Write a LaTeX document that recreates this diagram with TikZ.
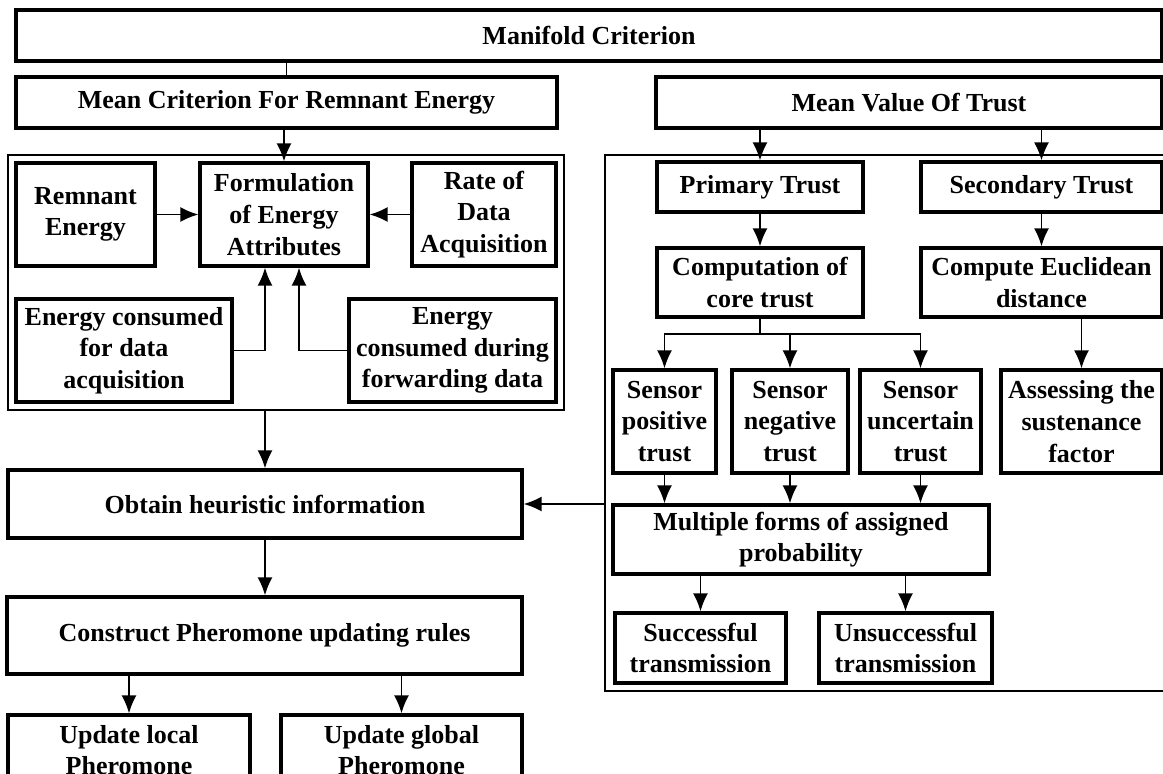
\documentclass[tikz,border=0pt]{standalone}
\usepackage{fontspec}
\setmainfont{Liberation Serif}
\usetikzlibrary{arrows.meta}
\tikzset{
  box/.style={rectangle, draw=black, line width=3.3pt, align=center, inner sep=0pt, font=\bfseries\fontsize{26}{31.7}\selectfont},
  frame/.style={rectangle, draw=black, line width=1.6pt, inner sep=0pt},
  arrow/.style={-{Latex[length=18pt,width=15pt]}, line width=1.8pt},
  link/.style={line width=1.8pt}
}
\begin{document}
\begin{tikzpicture}[x=1pt, y=-1pt]
\useasboundingbox (0,0) rectangle (1163,774);
\clip (0,0) rectangle (1163,774);
% frames
\node[frame, minimum width=556pt, minimum height=255pt](energyFrame) at (286,282.5){};
\node[frame, minimum width=570pt, minimum height=536pt](trustFrame) at (890,423){};

% top row
\node[box, minimum width=1146pt, minimum height=51pt](manifold) at (589,35.5){Manifold Criterion};
\node[box, minimum width=541pt, minimum height=51pt](meanEnergy) at (286.5,102.5){Mean Criterion For Remnant Energy};
\node[box, minimum width=506pt, minimum height=51pt](meanTrust) at (909,102.5){Mean Value Of Trust};

% energy side
\node[box, minimum width=139pt, minimum height=103pt](remnant) at (85.5,214.5){Remnant\\Energy};
\node[box, minimum width=168pt, minimum height=103pt](formulation) at (284,214.5){Formulation\\of Energy\\Attributes};
\node[box, minimum width=144pt, minimum height=103pt](rate) at (484,214.5){Rate of\\Data\\Acquisition};
\node[box, minimum width=216pt, minimum height=103pt](ecData) at (124,350.5){Energy consumed\\for data\\acquisition};
\node[box, minimum width=207pt, minimum height=103pt](ecFwd) at (452.5,350.5){Energy\\consumed during\\forwarding data};

\node[box, minimum width=514pt, minimum height=68pt](heuristic) at (265,504){Obtain heuristic information};
\node[box, minimum width=515pt, minimum height=77pt](construct) at (264.5,635.5){Construct Pheromone updating rules};
\node[box, minimum width=242pt, minimum height=70pt](updLocal) at (129,750){Update local\\Pheromone};
\node[box, minimum width=241pt, minimum height=70pt](updGlobal) at (401.5,750){Update global\\Pheromone};

% trust side
\node[box, minimum width=206pt, minimum height=50pt](primary) at (760,187){Primary Trust};
\node[box, minimum width=241pt, minimum height=50pt](secondary) at (1041.5,187){Secondary Trust};
\node[box, minimum width=206pt, minimum height=69pt](core) at (760,282.5){Computation of\\core trust};
\node[box, minimum width=241pt, minimum height=69pt](euclid) at (1041.5,282.5){Compute Euclidean\\distance};
\node[box, minimum width=103pt, minimum height=103pt](sPos) at (664.5,421.5){Sensor\\positive\\trust};
\node[box, minimum width=116pt, minimum height=103pt](sNeg) at (790,421.5){Sensor\\negative\\trust};
\node[box, minimum width=121pt, minimum height=103pt](sUnc) at (920.5,421.5){Sensor\\uncertain\\trust};
\node[box, minimum width=161pt, minimum height=103pt](sustain) at (1081.5,421.5){Assessing the\\sustenance\\factor};
\node[box, minimum width=376pt, minimum height=69pt](multiple) at (801,539.5){Multiple forms of assigned\\probability};
\node[box, minimum width=171pt, minimum height=70pt](success) at (700.5,648){Successful\\transmission};
\node[box, minimum width=173pt, minimum height=70pt](failure) at (905.5,648){Unsuccessful\\transmission};

% connectors, energy side
\draw[link] (meanEnergy.north |- manifold.south) -- (meanEnergy.north);
\draw[arrow] (meanEnergy.south -| formulation) -- (formulation.north);
\draw[arrow] (remnant.east) -- (formulation.west);
\draw[arrow] (rate.west) -- (formulation.east);
\draw[arrow] (ecData.east) -| ([xshift=-19pt]formulation.south);
\draw[arrow] (ecFwd.west) -| ([xshift=15pt]formulation.south);
\draw[arrow] (energyFrame.south -| heuristic) -- (heuristic.north);
\draw[arrow] (heuristic.south) -- (heuristic.south |- construct.north);
\draw[arrow] (construct.south -| updLocal) -- (updLocal.north);
\draw[arrow] (construct.south -| updGlobal) -- (updGlobal.north);

% connectors, trust side
\draw[arrow] (trustFrame.west |- heuristic.east) -- (heuristic.east);
\draw[arrow] (meanTrust.south -| primary) -- (primary.north);
\draw[arrow] (meanTrust.south -| secondary) -- (secondary.north);
\draw[arrow] (primary.south) -- (core.north);
\draw[arrow] (secondary.south) -- (euclid.north);
\draw[arrow] (core.south) -- ++(0,15) -| (sPos.north);
\draw[arrow] (core.south) -- ++(0,15) -| (sNeg.north);
\draw[arrow] (core.south) -- ++(0,15) -| (sUnc.north);
\draw[arrow] (euclid.south -| sustain) -- (sustain.north);
\draw[arrow] (sPos.south) -- (sPos.south |- multiple.north);
\draw[arrow] (sNeg.south) -- (sNeg.south |- multiple.north);
\draw[arrow] (sUnc.south) -- (sUnc.south |- multiple.north);
\draw[arrow] (multiple.south -| success) -- (success.north);
\draw[arrow] (multiple.south -| failure) -- (failure.north);
\end{tikzpicture}
\end{document}
